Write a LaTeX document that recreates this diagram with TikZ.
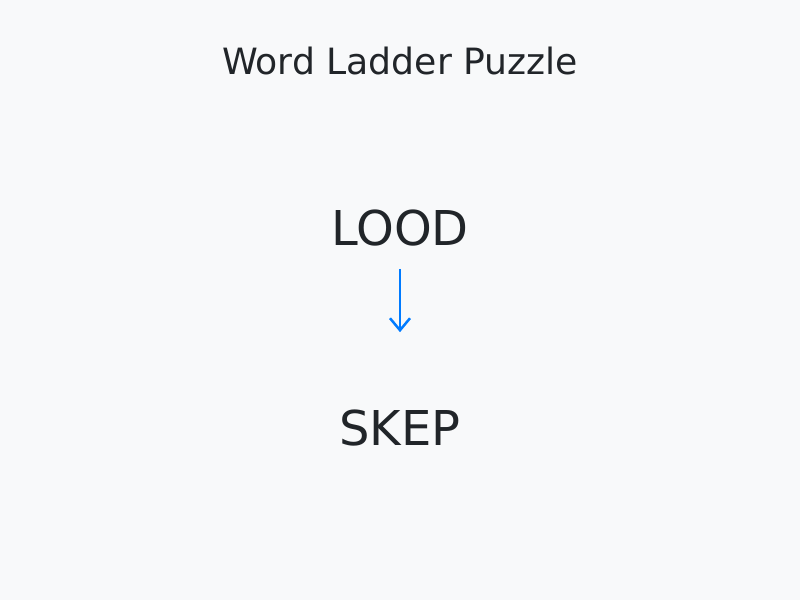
\documentclass[tikz,border=0pt]{standalone}
\usepackage{fontspec}
\setmainfont{DejaVu Sans}
\usetikzlibrary{arrows.meta}
\definecolor{pagebg}{HTML}{F8F9FA}
\definecolor{inkdark}{HTML}{212529}
\definecolor{stepblue}{HTML}{007BFF}
\begin{document}
\begin{tikzpicture}[x=1pt,y=-1pt,>={Straight Barb[length=12pt,width=20pt]}]
        \tikzstyle{heading}=[inner sep=0pt, anchor=base, text=inkdark, font=\fontsize{36.2}{40}\selectfont]
        \tikzstyle{word}=[inner sep=0pt, anchor=base, text=inkdark, font=\fontsize{48}{52}\selectfont]
        \fill[pagebg] (0,0) rectangle (800,600);
        \useasboundingbox (0,0) rectangle (800,600);
        \node[heading] (title) at (400,74) {Word Ladder Puzzle};
        \node[word] (lood) at (400,245) {LOOD};
        \node[word] (skep) at (400,445) {SKEP};
        \draw[->,line width=2.5pt,stepblue,shorten <=23pt,shorten >=77pt] (lood.south) -- (skep.north);
    \end{tikzpicture}
\end{document}
